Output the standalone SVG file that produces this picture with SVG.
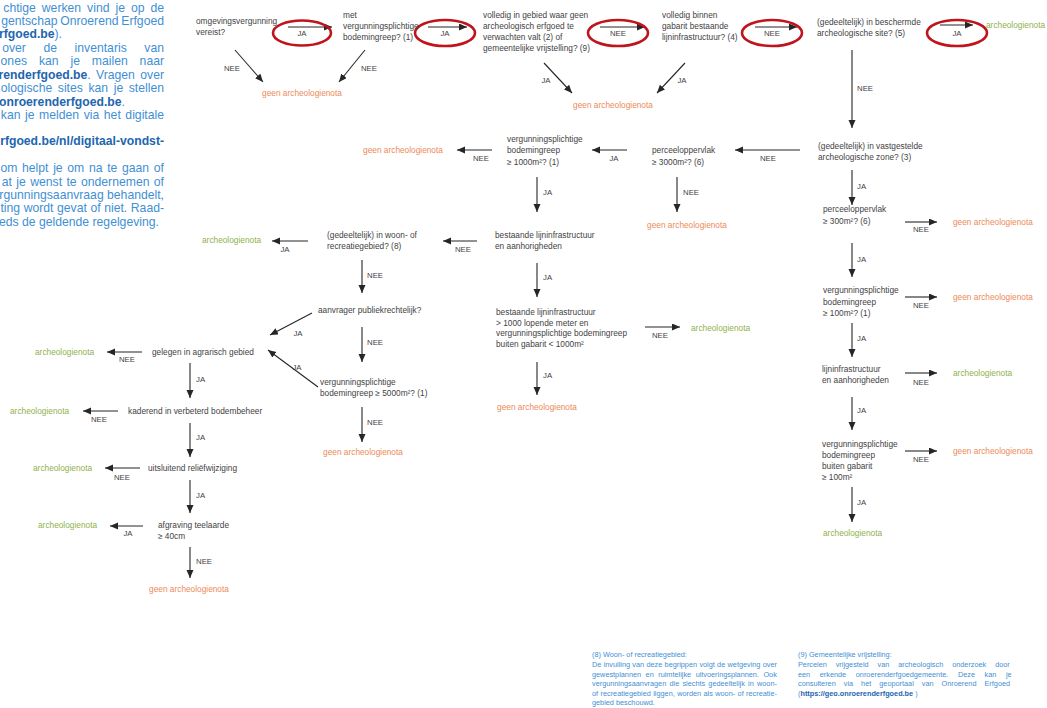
<svg xmlns="http://www.w3.org/2000/svg" width="1047" height="708" viewBox="0 0 1047 708">
<style>
.t{font-family:"Liberation Sans",Arial,sans-serif;font-size:8.3px;fill:#3f3f3f}
.lb{font-family:"Liberation Sans",Arial,sans-serif;font-size:7.8px;fill:#3f3f3f}
.c{text-anchor:middle}
.o{font-family:"Liberation Sans",Arial,sans-serif;font-size:8.3px;fill:#ec8a58}
.g{font-family:"Liberation Sans",Arial,sans-serif;font-size:8.3px;fill:#8fb14b}
.info{font-family:"Liberation Sans",Arial,sans-serif;font-size:12.2px;fill:#3f8fd4}
.r{text-anchor:end}
.note{font-family:"Liberation Sans",Arial,sans-serif;font-size:7.3px;fill:#3f8fd4}
.b{font-weight:bold;fill:#2265b0}
.a{stroke:#262626;stroke-width:1.1;fill:none;marker-end:url(#ah)}
.e{fill:none;stroke:#c0141c;stroke-width:2.6}
</style>
<defs>
<marker id="ah" markerUnits="userSpaceOnUse" markerWidth="9" markerHeight="8" refX="8" refY="3.5" orient="auto">
<path d="M0,0 L8,3.5 L0,7 z" fill="#262626"/>
</marker>
</defs>
<rect width="1047" height="708" fill="#ffffff"/>

<g id="info">
<text class="info r" x="164" y="12" word-spacing="2.6">chtige werken vind je op de</text>
<text class="info r" x="164" y="25" word-spacing="-0.6">gentschap Onroerend Erfgoed</text>
<text class="info" x="-1" y="38"><tspan class="b">rfgoed.be</tspan>).</text>
<text class="info r" x="164" y="52" word-spacing="14.2">over de inventaris van</text>
<text class="info r" x="164" y="65" word-spacing="8.5">ones kan je mailen naar</text>
<text class="info r" x="164" y="79" word-spacing="2"><tspan class="b">renderfgoed.be</tspan>. Vragen over</text>
<text class="info r" x="164" y="92" word-spacing="2.2">ologische sites kan je stellen</text>
<text class="info" x="-1" y="106"><tspan class="b">onroerenderfgoed.be</tspan>.</text>
<text class="info r" x="164" y="119" word-spacing="1.2">kan je melden via het digitale</text>
<text class="info b r" x="164" y="145">rfgoed.be/nl/digitaal-vondst-</text>
<text class="info r" x="164" y="172" word-spacing="1.3">om helpt je om na te gaan of</text>
<text class="info r" x="164" y="186" word-spacing="1">at je wenst te ondernemen of</text>
<text class="info r" x="164" y="199">rgunningsaanvraag behandelt,</text>
<text class="info r" x="164" y="212" word-spacing="0.2">ting wordt gevat of niet. Raad-</text>
<text class="info" x="-1" y="226">eds de geldende regelgeving.</text>
</g>

<g id="connectors">
<line class="a" x1="288" y1="27" x2="332" y2="27"/>
<line class="a" x1="428" y1="27" x2="467" y2="27"/>
<line class="a" x1="600" y1="27" x2="645" y2="27"/>
<line class="a" x1="755" y1="27" x2="797" y2="27"/>
<line class="a" x1="940" y1="25" x2="973" y2="25"/>
<ellipse class="e" cx="302" cy="33" rx="29" ry="12.5"/>
<ellipse class="e" cx="445" cy="33" rx="30" ry="13"/>
<ellipse class="e" cx="618" cy="33" rx="30" ry="13"/>
<ellipse class="e" cx="772" cy="33" rx="30" ry="13"/>
<ellipse class="e" cx="957" cy="33" rx="30" ry="13"/>
<text class="lb c" x="302" y="36">JA</text>
<text class="lb c" x="445" y="36">JA</text>
<text class="lb c" x="618" y="36">NEE</text>
<text class="lb c" x="772" y="36">NEE</text>
<text class="lb c" x="957" y="36">JA</text>

<line class="a" x1="235" y1="50" x2="263" y2="82"/>
<text class="lb c" x="232" y="71">NEE</text>
<line class="a" x1="365" y1="50" x2="339" y2="82"/>
<text class="lb c" x="369" y="71">NEE</text>
<line class="a" x1="544" y1="63" x2="572" y2="93"/>
<text class="lb c" x="546" y="83">JA</text>
<line class="a" x1="685" y1="63" x2="657" y2="93"/>
<text class="lb c" x="682" y="83">JA</text>

<line class="a" x1="852" y1="50" x2="852" y2="128"/>
<text class="lb" x="857" y="91">NEE</text>
<line class="a" x1="800" y1="150" x2="735" y2="150"/>
<text class="lb c" x="768" y="161">NEE</text>
<line class="a" x1="627" y1="150" x2="592" y2="150"/>
<text class="lb c" x="614" y="161">JA</text>
<line class="a" x1="492" y1="150" x2="457" y2="150"/>
<text class="lb c" x="481" y="161">NEE</text>
<line class="a" x1="677" y1="177" x2="677" y2="212"/>
<text class="lb" x="683" y="195">NEE</text>
<line class="a" x1="537" y1="177" x2="537" y2="212"/>
<text class="lb" x="543" y="195">JA</text>

<line class="a" x1="852" y1="170" x2="852" y2="205"/>
<text class="lb" x="857" y="189">JA</text>
<line class="a" x1="905" y1="222" x2="937" y2="222"/>
<text class="lb c" x="921" y="232">NEE</text>
<line class="a" x1="852" y1="243" x2="852" y2="277"/>
<text class="lb" x="857" y="262">JA</text>
<line class="a" x1="905" y1="297" x2="937" y2="297"/>
<text class="lb c" x="921" y="308">NEE</text>
<line class="a" x1="852" y1="323" x2="852" y2="357"/>
<text class="lb" x="857" y="341">JA</text>
<line class="a" x1="905" y1="373" x2="937" y2="373"/>
<text class="lb c" x="921" y="385">NEE</text>
<line class="a" x1="852" y1="397" x2="852" y2="430"/>
<text class="lb" x="857" y="413">JA</text>
<line class="a" x1="905" y1="451" x2="937" y2="451"/>
<text class="lb c" x="921" y="462">NEE</text>
<line class="a" x1="852" y1="487" x2="852" y2="522"/>
<text class="lb" x="857" y="505">JA</text>

<line class="a" x1="477" y1="241" x2="443" y2="241"/>
<text class="lb c" x="463" y="252">NEE</text>
<line class="a" x1="308" y1="241" x2="272" y2="241"/>
<text class="lb c" x="285" y="252">JA</text>
<line class="a" x1="537" y1="263" x2="537" y2="297"/>
<text class="lb" x="543" y="280">JA</text>
<line class="a" x1="362" y1="260" x2="362" y2="293"/>
<text class="lb" x="367" y="278">NEE</text>
<line class="a" x1="312" y1="313" x2="270" y2="335"/>
<text class="lb c" x="298" y="336">JA</text>
<line class="a" x1="362" y1="327" x2="362" y2="362"/>
<text class="lb" x="367" y="345">NEE</text>
<line class="a" x1="318" y1="387" x2="268" y2="350"/>
<text class="lb c" x="297" y="370">JA</text>
<line class="a" x1="362" y1="407" x2="362" y2="442"/>
<text class="lb" x="367" y="425">NEE</text>
<line class="a" x1="537" y1="362" x2="537" y2="395"/>
<text class="lb" x="543" y="378">JA</text>
<line class="a" x1="645" y1="327" x2="680" y2="327"/>
<text class="lb c" x="660" y="338">NEE</text>

<line class="a" x1="142" y1="352" x2="107" y2="352"/>
<text class="lb c" x="127" y="362">NEE</text>
<line class="a" x1="190" y1="363" x2="190" y2="398"/>
<text class="lb" x="196" y="382">JA</text>
<line class="a" x1="118" y1="411" x2="83" y2="411"/>
<text class="lb c" x="99" y="422">NEE</text>
<line class="a" x1="190" y1="423" x2="190" y2="457"/>
<text class="lb" x="196" y="440">JA</text>
<line class="a" x1="140" y1="468" x2="105" y2="468"/>
<text class="lb c" x="122" y="480">NEE</text>
<line class="a" x1="190" y1="480" x2="190" y2="513"/>
<text class="lb" x="196" y="498">JA</text>
<line class="a" x1="143" y1="526" x2="110" y2="526"/>
<text class="lb c" x="128" y="536">JA</text>
<line class="a" x1="190" y1="547" x2="190" y2="578"/>
<text class="lb" x="196" y="564">NEE</text>
</g>

<g id="n1"><text class="t" x="196" y="24">omgevingsvergunning</text><text class="t" x="196" y="35">vereist?</text></g>
<g id="n2"><text class="t" x="343" y="18">met</text><text class="t" x="343" y="29">vergunningsplichtige</text><text class="t" x="343" y="40">bodemingreep? (1)</text></g>
<g id="n3"><text class="t" x="483" y="18">volledig in gebied waar geen</text><text class="t" x="483" y="29">archeologisch erfgoed te</text><text class="t" x="483" y="40">verwachten valt (2) of</text><text class="t" x="483" y="51">gemeentelijke vrijstelling? (9)</text></g>
<g id="n4"><text class="t" x="662" y="18">volledig binnen</text><text class="t" x="662" y="29">gabarit bestaande</text><text class="t" x="662" y="40">lijninfrastructuur? (4)</text></g>
<g id="n5"><text class="t" x="817" y="25">(gedeeltelijk) in beschermde</text><text class="t" x="817" y="36">archeologische site? (5)</text></g>
<g id="r1"><text class="o c" x="302" y="96">geen archeologienota</text></g>
<g id="r2"><text class="o c" x="613" y="108">geen archeologienota</text></g>
<g id="r3"><text class="g" x="986" y="28">archeologienota</text></g>

<g id="n6"><text class="t" x="818" y="149">(gedeeltelijk) in vastgestelde</text><text class="t" x="818" y="160">archeologische zone? (3)</text></g>
<g id="n7"><text class="t" x="652" y="153">perceeloppervlak</text><text class="t" x="652" y="165">≥ 3000m²? (6)</text></g>
<g id="n8"><text class="t" x="507" y="142">vergunningsplichtige</text><text class="t" x="507" y="153">bodemingreep</text><text class="t" x="507" y="165">≥ 1000m²? (1)</text></g>
<g id="r4"><text class="o c" x="403" y="153">geen archeologienota</text></g>
<g id="r5"><text class="o c" x="687" y="228">geen archeologienota</text></g>

<g id="n9"><text class="t" x="823" y="212">perceeloppervlak</text><text class="t" x="823" y="224">≥ 300m²? (6)</text></g>
<g id="r6"><text class="o" x="953" y="225">geen archeologienota</text></g>
<g id="n10"><text class="t" x="823" y="293">vergunningsplichtige</text><text class="t" x="823" y="305">bodemingreep</text><text class="t" x="823" y="316">≥ 100m²? (1)</text></g>
<g id="r7"><text class="o" x="953" y="300">geen archeologienota</text></g>
<g id="n11"><text class="t" x="822" y="372">lijninfrastructuur</text><text class="t" x="822" y="383">en aanhorigheden</text></g>
<g id="r8"><text class="g" x="953" y="376">archeologienota</text></g>
<g id="n12"><text class="t" x="822" y="447">vergunningsplichtige</text><text class="t" x="822" y="458">bodemingreep</text><text class="t" x="822" y="469">buiten gabarit</text><text class="t" x="822" y="480">≥ 100m²</text></g>
<g id="r9"><text class="o" x="953" y="454">geen archeologienota</text></g>
<g id="r10"><text class="g" x="823" y="536">archeologienota</text></g>

<g id="n13"><text class="t" x="495" y="238">bestaande lijninfrastructuur</text><text class="t" x="495" y="249">en aanhorigheden</text></g>
<g id="n14"><text class="t" x="327" y="238">(gedeeltelijk) in woon- of</text><text class="t" x="327" y="249">recreatiegebied? (8)</text></g>
<g id="r11"><text class="g" x="202" y="243">archeologienota</text></g>
<g id="n15"><text class="t" x="318" y="313">aanvrager publiekrechtelijk?</text></g>
<g id="n16"><text class="t" x="320" y="385">vergunningsplichtige</text><text class="t" x="320" y="396">bodemingreep ≥ 5000m²? (1)</text></g>
<g id="r12"><text class="o c" x="363" y="455">geen archeologienota</text></g>
<g id="n17"><text class="t" x="496" y="315">bestaande lijninfrastructuur</text><text class="t" x="496" y="326">&gt; 1000 lopende meter en</text><text class="t" x="496" y="336">vergunningsplichtige bodemingreep</text><text class="t" x="496" y="347">buiten gabarit &lt; 1000m²</text></g>
<g id="r13"><text class="o c" x="537" y="410">geen archeologienota</text></g>
<g id="r14"><text class="g" x="691" y="331">archeologienota</text></g>

<g id="n18"><text class="t" x="152" y="355">gelegen in agrarisch gebied</text></g>
<g id="r15"><text class="g" x="35" y="355">archeologienota</text></g>
<g id="n19"><text class="t" x="128" y="414">kaderend in verbeterd bodembeheer</text></g>
<g id="r16"><text class="g" x="10" y="414">archeologienota</text></g>
<g id="n20"><text class="t" x="148" y="471">uitsluitend reliëfwijziging</text></g>
<g id="r17"><text class="g" x="33" y="471">archeologienota</text></g>
<g id="n21"><text class="t" x="158" y="528">afgraving teelaarde</text><text class="t" x="158" y="539">≥ 40cm</text></g>
<g id="r18"><text class="g" x="38" y="528">archeologienota</text></g>
<g id="r19"><text class="o c" x="189" y="592">geen archeologienota</text></g>

<g id="note8">
<text class="note" x="592" y="657">(8) Woon- of recreatiegebied:</text>
<text class="note" x="592" y="667" word-spacing="0.3">De invulling van deze begrippen volgt de wetgeving over</text>
<text class="note" x="592" y="677" word-spacing="2.5">gewestplannen en ruimtelijke uitvoeringsplannen. Ook</text>
<text class="note" x="592" y="686" word-spacing="1.2">vergunningsaanvragen die slechts gedeeltelijk in woon-</text>
<text class="note" x="592" y="696" word-spacing="0.4">of recreatiegebied liggen, worden als woon- of recreatie-</text>
<text class="note" x="592" y="705">gebied beschouwd.</text>
</g>
<g id="note9">
<text class="note" x="798" y="657">(9) Gemeentelijke vrijstelling:</text>
<text class="note" x="798" y="667" word-spacing="6.9">Percelen vrijgesteld van archeologisch onderzoek door</text>
<text class="note" x="798" y="677" word-spacing="7.6">een erkende onroerenderfgoedgemeente. Deze kan je</text>
<text class="note" x="798" y="686" word-spacing="6">consulteren via het geoportaal van Onroerend Erfgoed</text>
<text class="note" x="798" y="696">(<tspan class="b">https://geo.onroerenderfgoed.be</tspan> )</text>
</g>
</svg>
